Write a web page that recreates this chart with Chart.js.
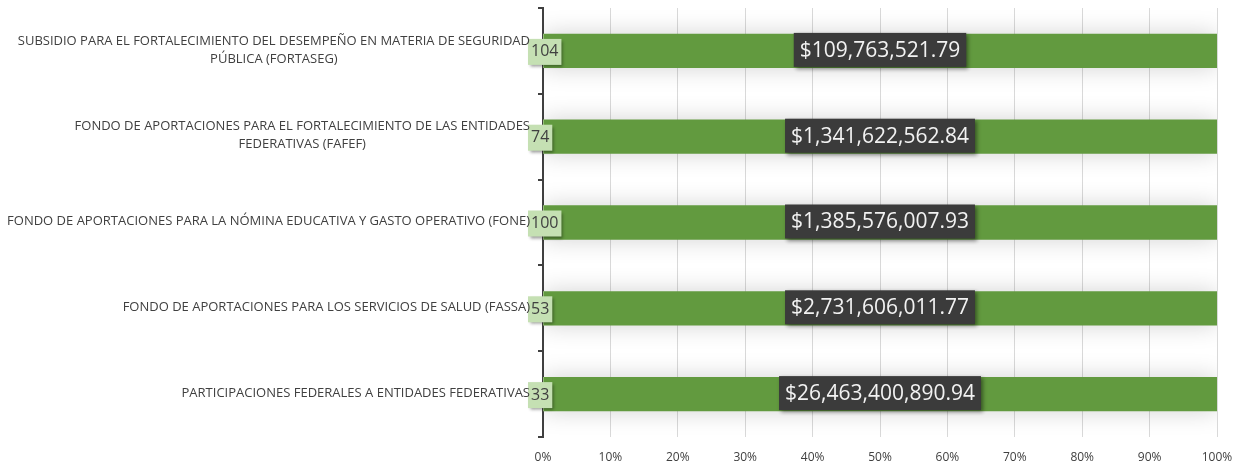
<!DOCTYPE html>
<html>
<head>
<meta charset="utf-8">
<script src="https://cdn.jsdelivr.net/npm/chart.js@4"></script>
<style>
    html, body { margin: 0; padding: 0; background: #fff; }
    #wrap { width: 1245px; height: 463px; }
</style>
</head>
<body>
<div id="wrap"><canvas id="fondos"></canvas></div>
<script>
const labels = [
    ['SUBSIDIO PARA EL FORTALECIMIENTO DEL DESEMPEÑO EN MATERIA DE SEGURIDAD', 'PÚBLICA (FORTASEG)'],
    ['FONDO DE APORTACIONES PARA EL FORTALECIMIENTO DE LAS ENTIDADES', 'FEDERATIVAS (FAFEF)'],
    'FONDO DE APORTACIONES PARA LA NÓMINA EDUCATIVA Y GASTO OPERATIVO (FONE)',
    'FONDO DE APORTACIONES PARA LOS SERVICIOS DE SALUD (FASSA)',
    'PARTICIPACIONES FEDERALES A ENTIDADES FEDERATIVAS'
];
const counts = [104, 74, 100, 53, 33];
const amounts = [109763521.79, 1341622562.84, 1385576007.93, 2731606011.77, 26463400890.94];
const xTicks = [0, 10, 20, 30, 40, 50, 60, 70, 80, 90, 100];

const countPct = counts.map((c, i) => c / (c + amounts[i]) * 100);
const amountPct = amounts.map((a, i) => a / (a + counts[i]) * 100);

const money = new Intl.NumberFormat('en-US', { style: 'currency', currency: 'USD', minimumFractionDigits: 2 });

const barShadow = {
    id: 'barShadow',
    beforeDatasetDraw(chart, args) {
        if (args.index !== 1) return;
        const ctx = chart.ctx;
        ctx.save();
        ctx.shadowColor = 'rgba(0,0,0,0.18)';
        ctx.shadowBlur = 24;
    },
    afterDatasetDraw(chart, args) {
        if (args.index !== 1) return;
        chart.ctx.restore();
    }
};

// category labels: right edge next to the axis, wrapped lines centred on each other
const catLabels = {
    id: 'catLabels',
    afterDraw(chart) {
        const ctx = chart.ctx;
        const y = chart.scales.y;
        const right = y.right - 13;
        const lineH = 18;
        ctx.save();
        ctx.font = '13px "Open Sans"';
        ctx.fillStyle = '#404040';
        ctx.textBaseline = 'middle';
        ctx.textAlign = 'center';
        labels.forEach((lab, i) => {
            const lines = Array.isArray(lab) ? lab : [lab];
            const maxW = Math.max(...lines.map(l => ctx.measureText(l).width));
            const cx = right - maxW / 2;
            const cy = y.getPixelForValue(i) - 1;
            const top = cy - (lines.length - 1) * lineH / 2;
            lines.forEach((l, j) => ctx.fillText(l, cx, top + j * lineH));
        });
        ctx.restore();
    }
};

const barLabels = {
    id: 'barLabels',
    afterDatasetsDraw(chart) {
        const ctx = chart.ctx;
        const bars = chart.getDatasetMeta(1).data;
        const base = chart.scales.x.getPixelForValue(0);
        bars.forEach((bar, i) => {
            // amount box, centred on the bar
            let text = money.format(amounts[i]);
            ctx.save();
            ctx.font = '21px "Open Sans"';
            let w = ctx.measureText(text).width + 12;
            let h = 34;
            let cx = (bar.x + base) / 2;
            ctx.shadowColor = 'rgba(0,0,0,0.45)';
            ctx.shadowBlur = 4;
            ctx.shadowOffsetX = 2;
            ctx.shadowOffsetY = 2;
            ctx.fillStyle = '#3b3b3b';
            ctx.fillRect(cx - w / 2, bar.y - h / 2 - 1, w, h);
            ctx.shadowColor = 'transparent';
            ctx.fillStyle = '#f2f2f2';
            ctx.textAlign = 'center';
            ctx.textBaseline = 'middle';
            ctx.fillText(text, cx, bar.y);
            ctx.restore();

            // count box at the base
            text = String(counts[i]);
            ctx.save();
            ctx.font = '16px "Open Sans"';
            w = ctx.measureText(text).width + 6;
            h = 26;
            ctx.shadowColor = 'rgba(0,0,0,0.4)';
            ctx.shadowBlur = 3;
            ctx.shadowOffsetX = 2;
            ctx.shadowOffsetY = 2;
            ctx.fillStyle = '#c5e0b3';
            ctx.fillRect(base - 15, bar.y - h / 2 + 1, w, h);
            ctx.shadowColor = 'transparent';
            ctx.fillStyle = '#404040';
            ctx.textAlign = 'left';
            ctx.textBaseline = 'middle';
            ctx.fillText(text, base - 12, bar.y + 1);
            ctx.restore();
        });
    }
};

const ctx = document.getElementById('fondos');

new Chart(ctx, {
    type: 'bar',
    data: {
        labels,
        datasets: [{
            label: 'Número',
            data: countPct,
            backgroundColor: '#c5e0b3',
            borderWidth: 0
        }, {
            label: 'Monto',
            data: amountPct,
            backgroundColor: '#629a3f',
            borderWidth: 0
        }]
    },
    options: {
        indexAxis: 'y',
        responsive: true,
        maintainAspectRatio: false,
        animation: false,
        layout: {
            padding: { top: 8, right: 28, bottom: 0, left: 0 }
        },
        datasets: {
            bar: { barPercentage: 0.4, categoryPercentage: 1 }
        },
        plugins: {
            legend: { display: false },
            tooltip: { enabled: false }
        },
        scales: {
            x: {
                stacked: true,
                min: 0,
                max: 100,
                afterBuildTicks: (axis) => {
                    axis.ticks = xTicks.map(v => ({ value: v }));
                },
                afterFit: (axis) => {
                    axis.height = 26;
                    axis.paddingLeft = 0;
                    axis.paddingRight = 0;
                },
                grid: {
                    color: '#d9d9d9',
                    lineWidth: 1,
                    drawTicks: false
                },
                border: { display: false },
                ticks: {
                    padding: 13,
                    color: '#404040',
                    font: { family: '"Open Sans"', size: 12 },
                    callback: (v) => v + '%'
                }
            },
            y: {
                stacked: true,
                afterFit: (axis) => {
                    axis.width = 543;
                    axis.paddingTop = 0;
                    axis.paddingBottom = 0;
                },
                grid: {
                    drawOnChartArea: false,
                    drawTicks: true,
                    tickLength: 5,
                    color: '#404040',
                    lineWidth: 2
                },
                border: { display: true, color: '#404040', width: 2 },
                ticks: {
                    padding: 8,
                    font: { family: '"Open Sans"', size: 12 },
                    callback: () => ''
                }
            }
        }
    },
    plugins: [barShadow, barLabels, catLabels]
});
</script>
</body>
</html>
